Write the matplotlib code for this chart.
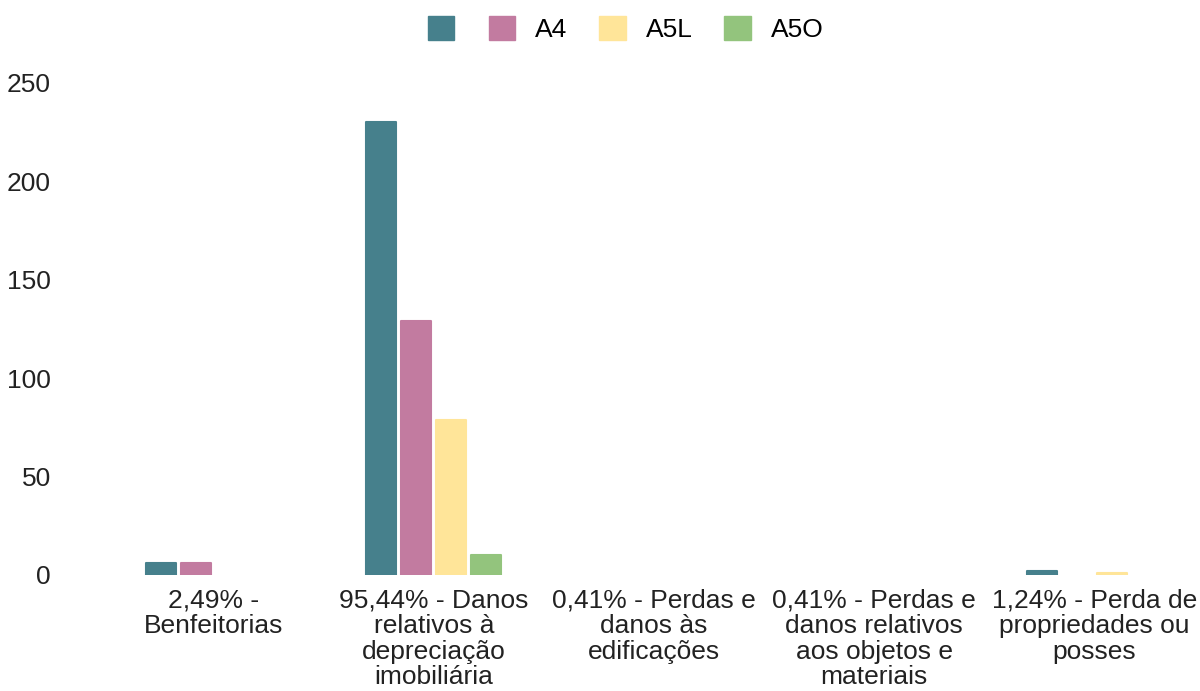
import matplotlib
matplotlib.use("Agg")
import matplotlib.pyplot as plt
import numpy as np
from matplotlib.patches import Patch

categories = ["2,49% -\nBenfeitorias",
              "95,44% - Danos\nrelativos à\ndepreciação\nimobiliária",
              "0,41% - Perdas e\ndanos às\nedificações",
              "0,41% - Perdas e\ndanos relativos\naos objetos e\nmateriais",
              "1,24% - Perda de\npropriedades ou\nposses"]
series_names = ["", "A4", "A5L", "A5O"]
s0 = [6, 230, 0, 0, 2]
s_a4 = [6, 129, 0, 0, 0]
s_a5l = [0, 79, 0, 0, 1]
s_a5o = [0, 10, 0, 0, 0]
colors = ["#46808c", "#c27ba0", "#ffe599", "#93c47d"]
yticks = [0, 50, 100, 150, 200, 250]

plt.rcParams['font.family'] = ['Liberation Sans', 'DejaVu Sans']
fig = plt.figure(figsize=(12, 6.91), dpi=100)
W, H = 1200, 691
ax = fig.add_axes([103.5 / W, (H - 575) / H, 1101 / W, 492 / H])

x = np.arange(len(categories))
bw = 30 / 220.25
step = 35 / 220.25
all_series = [s0, s_a4, s_a5l, s_a5o]
for i, (vals, c, name) in enumerate(zip(all_series, colors, series_names)):
    offs = (i - 1.5) * step
    v = np.array(vals, dtype=float)
    b = ax.bar(x + offs, v, width=bw, color=c, edgecolor=c, linewidth=1.5,
               joinstyle='round', label=name)
    for p, val in zip(b.patches, v):
        if val == 0:
            p.set_visible(False)

ax.set_xlim(-0.5, len(categories) - 0.5)
ax.set_ylim(0, 250)
ax.set_yticks(yticks)
ax.set_yticklabels([str(t) for t in yticks], fontsize=19, color="#222222")
ax.tick_params(axis='y', length=0, pad=38)
ax.set_xticks(x)
ax.set_xticklabels(categories, fontsize=19, color="#222222", linespacing=1.08)
ax.tick_params(axis='x', length=0, pad=10)
for s in ax.spines.values():
    s.set_visible(False)

lh = [Patch(facecolor=c, edgecolor=c, joinstyle='round') for c in colors]
common = dict(frameon=False, fontsize=19, handlelength=1.0, handleheight=1.0,
              handletextpad=0.76, columnspacing=1.2, borderpad=0, borderaxespad=0)
ycen = 1 - 29 / H
leg1 = fig.legend(lh[:1], series_names[:1], loc='center left',
                  bbox_to_anchor=(428 / W, ycen), ncol=1, handletextpad=0,
                  **{k: v for k, v in common.items() if k != 'handletextpad'})
leg2 = fig.legend(lh[1:], series_names[1:], loc='center left',
                  bbox_to_anchor=(489 / W, ycen), ncol=3, **common)

fig.savefig("out.png", dpi=100, facecolor="white")
